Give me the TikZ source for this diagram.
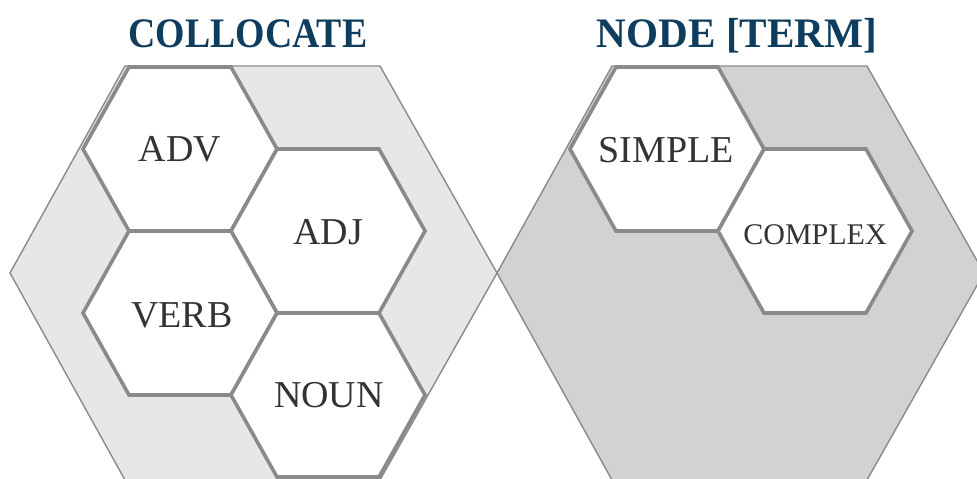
\documentclass[tikz,border=0pt]{standalone}
\usepackage{fontspec}
\setmainfont{Liberation Serif}
\newfontfamily\headfont[FakeStretch=0.9]{Liberation Serif}
\newfontfamily\headwidefont[FakeStretch=0.98]{Liberation Serif}
\definecolor{headblue}{HTML}{0F3D5E}
\definecolor{labelgray}{HTML}{333333}
\definecolor{rimgray}{HTML}{8A8A8A}
\definecolor{paleback}{HTML}{E6E7E9}
\definecolor{darkback}{HTML}{D1D2D4}
% flat-top hexagon cell of half-width 97, half top edge 51, half height 82
\newcommand{\cellhex}[2]{({#1-97},#2) -- ({#1-51},{#2-82}) -- ({#1+51},{#2-82}) -- ({#1+97},#2) -- ({#1+51},{#2+82}) -- ({#1-51},{#2+82}) -- cycle}
\tikzset{
  outerhex/.style={draw=rimgray, line width=1.4pt, line join=miter},
  cellbox/.style={draw=rimgray, fill=white, line width=3.6pt, line join=miter},
  celltext/.style={text=labelgray, font=\fontsize{38}{40}\selectfont, inner sep=0pt},
  headtext/.style={text=headblue, font=\headfont\bfseries\fontsize{42}{44}\selectfont, inner sep=0pt, anchor=base}
}
\begin{document}
\begin{tikzpicture}[x=1pt,y=-1pt]
\useasboundingbox (0,0) rectangle (977,479);
% large background hexagons
\fill[paleback] (10,273) -- (125,66) -- (380,66) -- (497,273) -- (380,480) -- (125,480) -- cycle;
\fill[darkback] (497,273) -- (612,66) -- (867,66) -- (984,273) -- (867,480) -- (612,480) -- cycle;
\draw[outerhex] (10,273) -- (125,66) -- (380,66) -- (497,273) -- (380,480) -- (125,480) -- cycle;
\draw[outerhex] (497,273) -- (612,66) -- (867,66) -- (984,273) -- (867,480) -- (612,480) -- cycle;
% cells of the collocate group
\draw[cellbox] \cellhex{180}{149};
\draw[cellbox] \cellhex{328}{231};
\draw[cellbox] \cellhex{180}{313};
\draw[cellbox] \cellhex{328}{395};
% cells of the term group
\draw[cellbox] \cellhex{667}{149};
\draw[cellbox] \cellhex{815}{231};
% labels
\node[celltext] (adv) at (180,149) {ADV};
\node[celltext] (adj) at (328,232) {ADJ};
\node[celltext] (verb) at (182,315) {VERB};
\node[celltext] (noun) at (329,395) {NOUN};
\node[celltext] (simple) at (666,150) {SIMPLE};
\node[celltext, font=\fontsize{30}{32}\selectfont] (complex) at (815,235) {COMPLEX};
% headings
\node[headtext] (collocate) at (248,47) {COLLOCATE};
\node[headtext, font=\headwidefont\bfseries\fontsize{42}{44}\selectfont] (term) at (737,47) {NODE [TERM]};
\end{tikzpicture}
\end{document}
